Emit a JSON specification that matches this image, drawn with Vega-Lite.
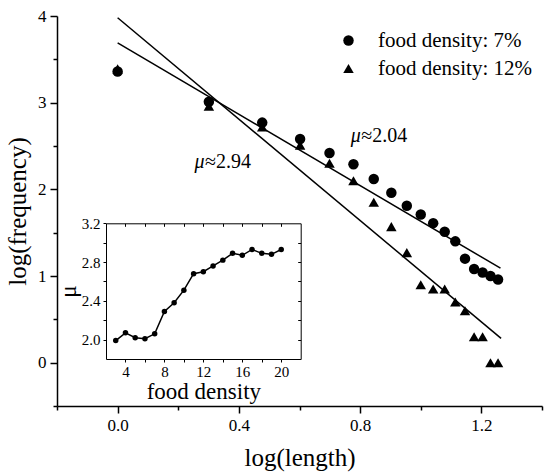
{
  "$schema": "https://vega.github.io/schema/vega-lite/v6.json",
  "width": 485,
  "height": 390,
  "autosize": {"type": "none"},
  "padding": {"left": 57, "top": 16, "right": 2, "bottom": 67},
  "background": "white",
  "config": {
    "view": {"stroke": null},
    "font": "Liberation Serif",
    "axis": {
      "grid": false,
      "domainColor": "black",
      "tickColor": "black",
      "labelColor": "black",
      "titleColor": "black",
      "labelFont": "Liberation Serif",
      "titleFont": "Liberation Serif",
      "titleFontWeight": "normal",
      "domainWidth": 1.5,
      "tickWidth": 1.5,
      "labelFlush": false,
      "labelOverlap": false
    }
  },
  "datasets": {
    "pts": [
      {"x": 0, "y": 3.36, "s": "food density: 7%"},
      {"x": 0.301, "y": 3.01, "s": "food density: 7%"},
      {"x": 0.477, "y": 2.77, "s": "food density: 7%"},
      {"x": 0.602, "y": 2.58, "s": "food density: 7%"},
      {"x": 0.699, "y": 2.42, "s": "food density: 7%"},
      {"x": 0.778, "y": 2.29, "s": "food density: 7%"},
      {"x": 0.845, "y": 2.12, "s": "food density: 7%"},
      {"x": 0.903, "y": 1.96, "s": "food density: 7%"},
      {"x": 0.954, "y": 1.81, "s": "food density: 7%"},
      {"x": 1.0, "y": 1.71, "s": "food density: 7%"},
      {"x": 1.041, "y": 1.61, "s": "food density: 7%"},
      {"x": 1.079, "y": 1.51, "s": "food density: 7%"},
      {"x": 1.114, "y": 1.40, "s": "food density: 7%"},
      {"x": 1.146, "y": 1.20, "s": "food density: 7%"},
      {"x": 1.176, "y": 1.08, "s": "food density: 7%"},
      {"x": 1.204, "y": 1.04, "s": "food density: 7%"},
      {"x": 1.230, "y": 1.00, "s": "food density: 7%"},
      {"x": 1.255, "y": 0.96, "s": "food density: 7%"},
      {"x": 0, "y": 3.39, "s": "food density: 12%"},
      {"x": 0.301, "y": 2.96, "s": "food density: 12%"},
      {"x": 0.477, "y": 2.72, "s": "food density: 12%"},
      {"x": 0.602, "y": 2.51, "s": "food density: 12%"},
      {"x": 0.699, "y": 2.30, "s": "food density: 12%"},
      {"x": 0.778, "y": 2.10, "s": "food density: 12%"},
      {"x": 0.845, "y": 1.85, "s": "food density: 12%"},
      {"x": 0.903, "y": 1.57, "s": "food density: 12%"},
      {"x": 0.954, "y": 1.27, "s": "food density: 12%"},
      {"x": 1.0, "y": 0.90, "s": "food density: 12%"},
      {"x": 1.041, "y": 0.85, "s": "food density: 12%"},
      {"x": 1.079, "y": 0.85, "s": "food density: 12%"},
      {"x": 1.114, "y": 0.70, "s": "food density: 12%"},
      {"x": 1.146, "y": 0.60, "s": "food density: 12%"},
      {"x": 1.176, "y": 0.30, "s": "food density: 12%"},
      {"x": 1.204, "y": 0.30, "s": "food density: 12%"},
      {"x": 1.230, "y": 0.0, "s": "food density: 12%"},
      {"x": 1.255, "y": 0.0, "s": "food density: 12%"}
    ],
    "fits": [
      {"x": 0, "y": 3.69, "fit": "a"},
      {"x": 1.263, "y": 1.09, "fit": "a"},
      {"x": 0, "y": 3.98, "fit": "b"},
      {"x": 1.265, "y": 0.28, "fit": "b"}
    ],
    "ann": [
      {"x": 0.254, "y": 2.32, "mu": "μ", "v": "≈2.94"},
      {"x": 0.769, "y": 2.62, "mu": "μ", "v": "≈2.04"}
    ],
    "inset": [
      {"fd": 3, "mu": 1.99}, {"fd": 4, "mu": 2.07}, {"fd": 5, "mu": 2.02},
      {"fd": 6, "mu": 2.01}, {"fd": 7, "mu": 2.06}, {"fd": 8, "mu": 2.29},
      {"fd": 9, "mu": 2.38}, {"fd": 10, "mu": 2.51}, {"fd": 11, "mu": 2.68},
      {"fd": 12, "mu": 2.70}, {"fd": 13, "mu": 2.76}, {"fd": 14, "mu": 2.82},
      {"fd": 15, "mu": 2.89}, {"fd": 16, "mu": 2.87}, {"fd": 17, "mu": 2.93},
      {"fd": 18, "mu": 2.89}, {"fd": 19, "mu": 2.88}, {"fd": 20, "mu": 2.93}
    ]
  },
  "layer": [
    {
      "layer": [
        {
          "data": {"name": "pts"},
          "mark": {"type": "point", "filled": true, "opacity": 1, "size": 110},
          "encoding": {
            "x": {"field": "x", "type": "quantitative",
              "scale": {"domain": [-0.2, 1.4], "nice": false, "zero": false},
              "axis": {"orient": "bottom", "values": [0, 0.4, 0.8, 1.2], "format": ".1f", "tickSize": 7, "labelFontSize": 17, "labelPadding": 4, "title": "log(length)", "titleFontSize": 25, "titlePadding": 12}},
            "y": {"field": "y", "type": "quantitative",
              "scale": {"domain": [-0.5, 4], "nice": false, "zero": false},
              "axis": {"orient": "left", "values": [0, 1, 2, 3, 4], "format": "d", "tickSize": 7, "labelFontSize": 17, "labelPadding": 4, "title": "log(frequency)", "titleFontSize": 25, "titlePadding": 7}},
            "shape": {"field": "s", "type": "nominal",
              "scale": {"domain": ["food density: 7%", "food density: 12%"], "range": ["circle", "triangle-up"]},
              "legend": {"orient": "none", "legendX": 281, "legendY": 14, "title": null, "labelFont": "Liberation Serif", "labelFontSize": 21, "labelColor": "black", "symbolFillColor": "black", "symbolStrokeColor": "black", "symbolStrokeWidth": 0, "symbolSize": 110, "labelOffset": 19, "rowPadding": 6, "padding": 0}},
            "color": {"value": "black"}
          }
        },
        {
          "data": {"name": "fits"},
          "mark": {"type": "line", "color": "black", "strokeWidth": 1.5},
          "encoding": {
            "x": {"field": "x", "type": "quantitative",
              "scale": {"domain": [-0.2, 1.4], "nice": false, "zero": false},
              "axis": {"orient": "bottom", "values": [-0.2, 0.2, 0.6, 1.0, 1.4], "labels": false, "domain": false, "tickSize": 4, "title": null}},
            "y": {"field": "y", "type": "quantitative",
              "scale": {"domain": [-0.5, 4], "nice": false, "zero": false},
              "axis": {"orient": "left", "values": [-0.5, 0.5, 1.5, 2.5, 3.5], "labels": false, "domain": false, "tickSize": 4, "title": null}},
            "detail": {"field": "fit", "type": "nominal"}
          }
        },
        {
          "data": {"name": "ann"},
          "mark": {"type": "text", "font": "Liberation Serif", "fontStyle": "italic", "fontSize": 20, "align": "left", "baseline": "middle", "color": "black"},
          "encoding": {
            "x": {"field": "x", "type": "quantitative", "scale": {"domain": [-0.2, 1.4], "nice": false, "zero": false}, "axis": null},
            "y": {"field": "y", "type": "quantitative", "scale": {"domain": [-0.5, 4], "nice": false, "zero": false}, "axis": null},
            "text": {"field": "mu"}
          }
        },
        {
          "data": {"name": "ann"},
          "mark": {"type": "text", "font": "Liberation Serif", "fontSize": 20, "align": "left", "baseline": "middle", "color": "black", "dx": 10.5},
          "encoding": {
            "x": {"field": "x", "type": "quantitative", "scale": {"domain": [-0.2, 1.4], "nice": false, "zero": false}, "axis": null},
            "y": {"field": "y", "type": "quantitative", "scale": {"domain": [-0.5, 4], "nice": false, "zero": false}, "axis": null},
            "text": {"field": "v"}
          }
        }
      ],
      "resolve": {"axis": {"x": "independent", "y": "independent"}}
    },
    {
      "layer": [
        {
          "data": {"name": "inset"},
          "mark": {"type": "line", "color": "black", "strokeWidth": 1.5},
          "encoding": {
            "x": {"field": "fd", "type": "quantitative",
              "scale": {"domain": [2, 22], "range": [49, 243.7], "nice": false, "zero": false},
              "axis": {"orient": "bottom", "offset": -47, "values": [4, 6, 8, 10, 12, 14, 16, 18, 20], "labelExpr": "datum.value % 4 === 0 ? datum.label : ''", "tickSize": 3, "tickWidth": 1, "domainWidth": 1, "labelFontSize": 15, "labelPadding": 2, "title": "food density", "titleFontSize": 23, "titlePadding": 1}},
            "y": {"field": "mu", "type": "quantitative",
              "scale": {"domain": [1.8, 3.2], "range": [343, 207.3], "nice": false, "zero": false},
              "axis": {"orient": "left", "offset": -49, "values": [2.0, 2.2, 2.4, 2.6, 2.8, 3.0, 3.2], "labelExpr": "round(datum.value * 10) % 4 === 0 ? format(datum.value, '.1f') : ''", "tickSize": 3, "tickWidth": 1, "domainWidth": 1, "labelFontSize": 15, "labelPadding": 3, "title": "μ", "titleFontSize": 23, "titlePadding": 1}}
          }
        },
        {
          "data": {"name": "inset"},
          "mark": {"type": "point", "filled": true, "opacity": 1, "size": 30, "color": "black"},
          "encoding": {
            "x": {"field": "fd", "type": "quantitative",
              "scale": {"domain": [2, 22], "range": [49, 243.7], "nice": false, "zero": false},
              "axis": {"orient": "top", "offset": -207.3, "values": [4, 6, 8, 10, 12, 14, 16, 18, 20], "labels": false, "tickSize": -3, "tickWidth": 1, "domainWidth": 1, "title": null}},
            "y": {"field": "mu", "type": "quantitative",
              "scale": {"domain": [1.8, 3.2], "range": [343, 207.3], "nice": false, "zero": false},
              "axis": {"orient": "right", "offset": -241.3, "values": [2.0, 2.2, 2.4, 2.6, 2.8, 3.0], "labels": false, "tickSize": -3, "tickWidth": 1, "domainWidth": 1, "title": null}}
          }
        }
      ],
      "resolve": {"axis": {"x": "independent", "y": "independent"}}
    }
  ],
  "resolve": {"scale": {"x": "independent", "y": "independent"}}
}
